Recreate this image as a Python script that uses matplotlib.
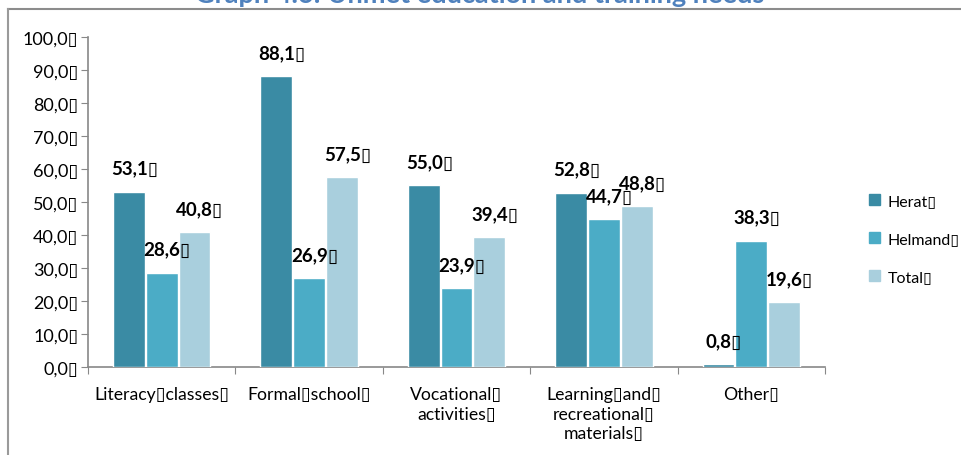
import numpy as np
import matplotlib.pyplot as plt
from matplotlib.lines import Line2D

BOX = "\u25af"  # stands in for the missing-glyph box of the source

# data
categories = ["Literacy" + BOX + "classes" + BOX, "Formal" + BOX + "school" + BOX,
              "Vocational" + BOX + "\nactivities" + BOX,
              "Learning" + BOX + "and" + BOX + "\nrecreational" + BOX + "\nmaterials" + BOX,
              "Other" + BOX]
series = ["Herat", "Helmand", "Total"]
herat = [53.1, 88.1, 55.0, 52.8, 0.8]
helmand = [28.6, 26.9, 23.9, 44.7, 38.3]
total = [40.8, 57.5, 39.4, 48.8, 19.6]
yticks = [0, 10, 20, 30, 40, 50, 60, 70, 80, 90, 100]

colors = ["#3A8BA4", "#4BACC6", "#A9CFDD"]
fam = ["Lato", "DejaVu Sans"]
plt.rcParams["font.family"] = fam

fig = plt.figure(figsize=(9.62, 4.56), dpi=100)
ax = fig.add_axes([88 / 962, 88 / 456, (825 - 88) / 962, 330 / 456])

x = np.arange(len(categories))
w = 0.216
step = 0.222
for i, (vals, c) in enumerate(zip([herat, helmand, total], colors)):
    pos = x + (i - 1) * step
    ax.bar(pos, vals, width=w, color=c, edgecolor="white", linewidth=1.0, zorder=3)
    for px, v in zip(pos, vals):
        ax.annotate(f"{v:.1f}".replace(".", ",") + BOX, (px, v),
                    xytext=(4, 17), textcoords="offset points",
                    ha="center", va="center", fontsize=13.5, fontweight="bold",
                    zorder=6)

ax.set_xlim(-0.5, len(categories) - 0.5)
ax.set_ylim(0, 100)
ax.set_yticks(yticks)
ax.set_yticklabels([f"{t:.1f}".replace(".", ",") + BOX for t in yticks], fontsize=13)

# category labels, with separators as ticks
ax.set_xticks(np.arange(len(categories) + 1) - 0.5)
ax.set_xticklabels([])
ax.set_xticks(x, minor=True)
ax.set_xticklabels(categories, minor=True, fontsize=12.7, linespacing=1.25)
ax.tick_params(axis="x", which="minor", length=0, pad=14)
ax.tick_params(axis="x", which="major", length=5, color="#888888", direction="out")
ax.tick_params(axis="y", length=5, color="#888888", pad=2)

for s in ["top", "right"]:
    ax.spines[s].set_visible(False)
for s in ["left", "bottom"]:
    ax.spines[s].set_color("#888888")
    ax.spines[s].set_linewidth(1.2)

handles = [plt.Rectangle((0, 0), 1, 1, color=c) for c in colors]
fig.legend(handles, [s + BOX for s in series], loc="center left",
           bbox_to_anchor=(855 / 962, 1 - 240 / 456), frameon=False,
           fontsize=11.5, handlelength=0.65, handleheight=0.65, handletextpad=0.5,
           labelspacing=1.5)

# outer frame and clipped title
fig.add_artist(Line2D([8 / 962, 1], [1 - 10 / 456, 1 - 10 / 456], color="#8c8c8c", lw=1.5))
fig.add_artist(Line2D([8 / 962, 8 / 962], [0, 1 - 10 / 456], color="#9a9a9a", lw=1.5))
fig.text(480 / 962, 1 - 3 / 456, "Graph 4.6: Unmet education and training needs",
         ha="center", va="baseline", fontsize=19.5, fontweight="bold", color="#4F81BD")

fig.savefig("out.png", dpi=100)
